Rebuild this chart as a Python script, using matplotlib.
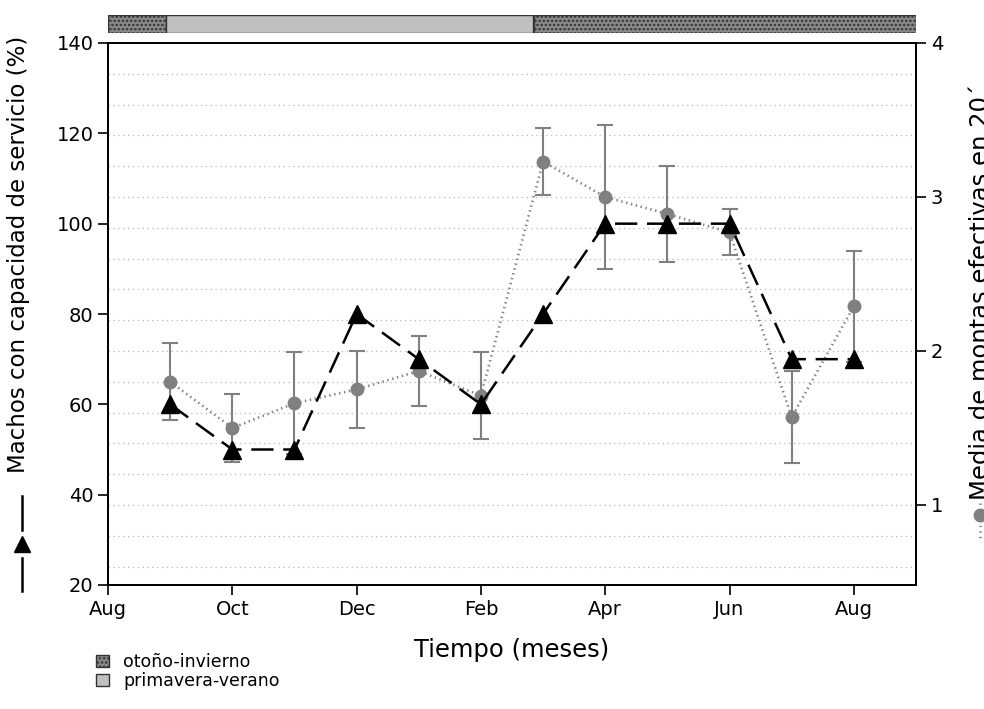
import matplotlib
matplotlib.use("Agg")
import matplotlib.pyplot as plt
from matplotlib.lines import Line2D
from matplotlib.patches import Patch, Rectangle

plt.rcParams['font.family'] = ['DejaVu Sans']
plt.rcParams['hatch.color'] = '#2a2a2a'
plt.rcParams['hatch.linewidth'] = 1.2
plt.rcParams['lines.scale_dashes'] = False

# meses desde agosto (0 = Aug)
meses = [1, 2, 3, 4, 5, 6, 7, 8, 9, 10, 11, 12]
machos = [60, 50, 50, 80, 70, 60, 80, 100, 100, 100, 70, 70]
montas = [1.80, 1.50, 1.66, 1.75, 1.87, 1.71, 3.23, 3.00, 2.89, 2.77, 1.57, 2.29]
montas_err = [0.25, 0.22, 0.33, 0.25, 0.23, 0.28, 0.22, 0.47, 0.31, 0.15, 0.30, 0.36]

tick_pos = [0, 2, 4, 6, 8, 10, 12]
tick_lab = ['Aug', 'Oct', 'Dec', 'Feb', 'Apr', 'Jun', 'Aug']

# estaciones (barra superior)
est_ini = [0, 0.94, 6.86]
est_fin = [0.94, 6.84, 13]
est_tipo = ['oi', 'pv', 'oi']

W, H = 984, 709
fig = plt.figure(figsize=(W / 100, H / 100), dpi=100)

ax = fig.add_axes([108 / W, 1 - 585 / H, (916 - 108) / W, (585 - 43) / H])
ax2 = ax.twinx()

ax.set_xlim(0, 13)
ax.set_ylim(20, 140)
ax2.set_ylim(0.48, 4)

# lineas de grilla punteadas cada 0.2 del eje derecho
for g in [0.6 + 0.2 * i for i in range(17)]:
    ax2.axhline(g, color='#bdbdbd', lw=0.9, ls=(0, (1, 2.5)), zorder=0)

ax2.errorbar(meses, montas, yerr=montas_err, fmt='o', color='#808080', ecolor='#808080',
             ms=9, capsize=6, elinewidth=1.5, capthick=1.5, zorder=3)
ax2.plot(meses, montas, color='#808080', lw=1.9, ls=(0, (1, 2.6)), zorder=3)

ax.plot(meses, machos, color='black', lw=1.8, dashes=(16, 7), marker='^', ms=13,
        zorder=5)
ax.set_zorder(ax2.get_zorder() + 1)
ax.patch.set_visible(False)

ax.set_xticks(tick_pos)
ax.set_xticklabels(tick_lab)
ax.set_yticks([20, 40, 60, 80, 100, 120, 140])
ax2.set_yticks([1, 2, 3, 4])
for a in (ax, ax2):
    a.tick_params(direction='out', length=7, width=1.2, labelsize=14)
    for s in a.spines.values():
        s.set_linewidth(1.3)

ax.set_xlabel('Tiempo (meses)', fontsize=17.5, labelpad=14)

# etiquetas de los ejes con su marcador
fig.text(7 / W, 1 - 473 / H, 'Machos con capacidad de servicio (%)', rotation=90,
         ha='left', va='bottom', fontsize=16.5)
fig.add_artist(Line2D([22 / W, 22 / W], [1 - 496 / H, 1 - 530 / H], color='black',
                      lw=1.8, transform=fig.transFigure))
fig.add_artist(Line2D([22 / W, 22 / W], [1 - 558 / H, 1 - 591 / H], color='black',
                      lw=1.8, transform=fig.transFigure))
fig.add_artist(Line2D([22 / W], [1 - 544 / H], color='black', marker='^', ms=12,
                      transform=fig.transFigure))

fig.text(969 / W, 1 - 500 / H, 'Media de montas efectivas en 20´', rotation=90,
         ha='left', va='bottom', fontsize=17.5)
fig.add_artist(Line2D([980 / W, 980 / W], [1 - 503 / H, 1 - 542 / H], color='#808080',
                      lw=1.8, ls=(0, (1, 3)), transform=fig.transFigure))
fig.add_artist(Line2D([980 / W], [1 - 515 / H], color='#808080', marker='o', ms=9,
                      transform=fig.transFigure))

# barra de estaciones
axb = fig.add_axes([108 / W, 1 - 33 / H, (916 - 108) / W, 18 / H])
axb.set_xlim(0, 13)
axb.set_ylim(0, 1)
axb.axis('off')
for i, f, t in zip(est_ini, est_fin, est_tipo):
    if t == 'oi':
        axb.add_patch(Rectangle((i, 0), f - i, 1, facecolor='#8a8a8a', hatch='....',
                                edgecolor='#333333', lw=1.0))
    else:
        axb.add_patch(Rectangle((i, 0), f - i, 1, facecolor='#c0c0c0',
                                edgecolor='#333333', lw=1.0))

handles = [Patch(facecolor='#8a8a8a', hatch='....', edgecolor='#333333'),
           Patch(facecolor='#c0c0c0', edgecolor='#333333')]
fig.legend(handles, ['otoño-invierno', 'primavera-verano'], loc='upper left',
           bbox_to_anchor=(84 / W, 1 - 641 / H), frameon=False, fontsize=12.5,
           handlelength=0.75, handleheight=0.75, handletextpad=0.8, labelspacing=0.05,
           borderpad=0.2)

fig.savefig('out.png', dpi=100)
